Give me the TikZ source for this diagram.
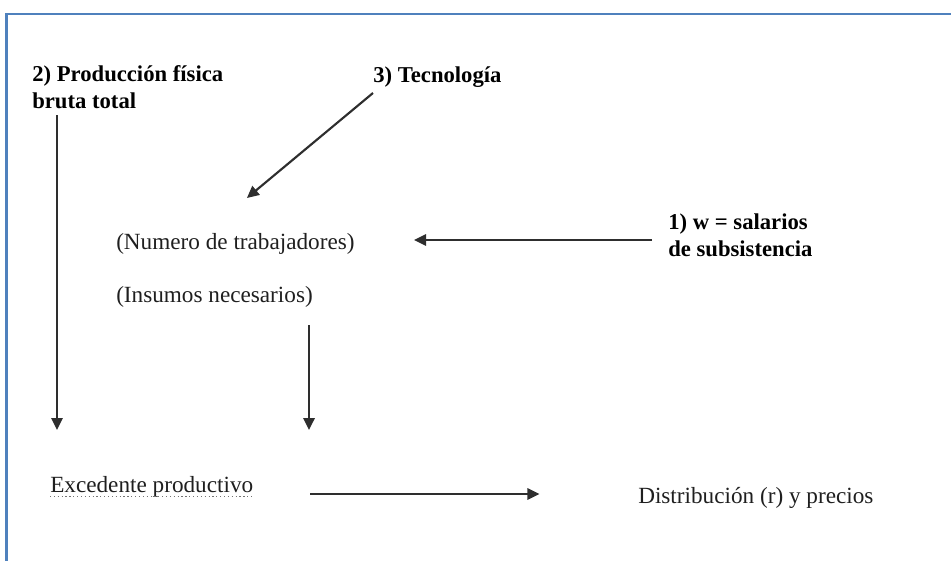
\documentclass[tikz,border=0pt]{standalone}
\usepackage{fontspec}
\setmainfont{Liberation Serif}
\usetikzlibrary{arrows.meta}
\definecolor{framecol}{RGB}{79,129,189}

\tikzset{
  lbl/.style={inner sep=0pt, anchor=base west, text=black!88,
    font=\fontsize{17.4}{20}\selectfont},
  boldlbl/.style={lbl, align=left, text=black,
    font=\fontsize{17}{20}\selectfont\bfseries},
  flow/.style={draw=black!82, line width=1.6pt,
    -{Triangle[length=9pt,width=8.5pt]}},
  frameline/.style={draw=framecol, line width=1.6pt},
  underl/.style={draw=black!55, dotted, line width=0.9pt}
}

\begin{document}
\begin{tikzpicture}[x=0.75pt, y=-0.75pt]

    \useasboundingbox (0,0) rectangle (951,561);

    % Frame
    \draw[frameline] (951,14) -- (6.5,14) -- (6.5,561);

    % Define nodes
    \node[boldlbl] (prod) at (32,108)  {2) Producción física\\bruta total};
    \node[boldlbl] (tec)  at (373,82)  {3) Tecnología};
    \node[lbl]     (num)  at (116,249) {(Numero de trabajadores)};
    \node[lbl]     (ins)  at ([yshift=-39.75pt]num.base west) {(Insumos necesarios)};
    \node[boldlbl] (sal)  at (668,256) {1) w = salarios\\de subsistencia};
    \node[lbl]     (exc)  at (50,492)  {Excedente productivo};
    \node[lbl]     (dist) at (638,503) {Distribución (r) y precios};

    \draw[underl] ([yshift=-3.5pt]exc.base west) -- ([yshift=-3.5pt]exc.base east);

    % Connect the nodes
    \draw[flow] ([yshift=-8.25pt]tec.base west) -- ([xshift=8.6pt,yshift=38.25pt]num.base);
    \draw[flow] ([xshift=-12pt,yshift=12pt]sal.base west) -- ++(-178.5pt,0);
    \draw[flow] ([xshift=18.75pt,yshift=-5.25pt]prod.base west) -- ([xshift=5.25pt,yshift=46.5pt]exc.base west);
    \draw[flow] ([xshift=-3pt,yshift=-17.25pt]ins.base east) -- ++(0,-78.75pt);
    \draw[flow] ([xshift=42.75pt,yshift=-1.5pt]exc.base east) -- ++(171.75pt,0);

\end{tikzpicture}
\end{document}
